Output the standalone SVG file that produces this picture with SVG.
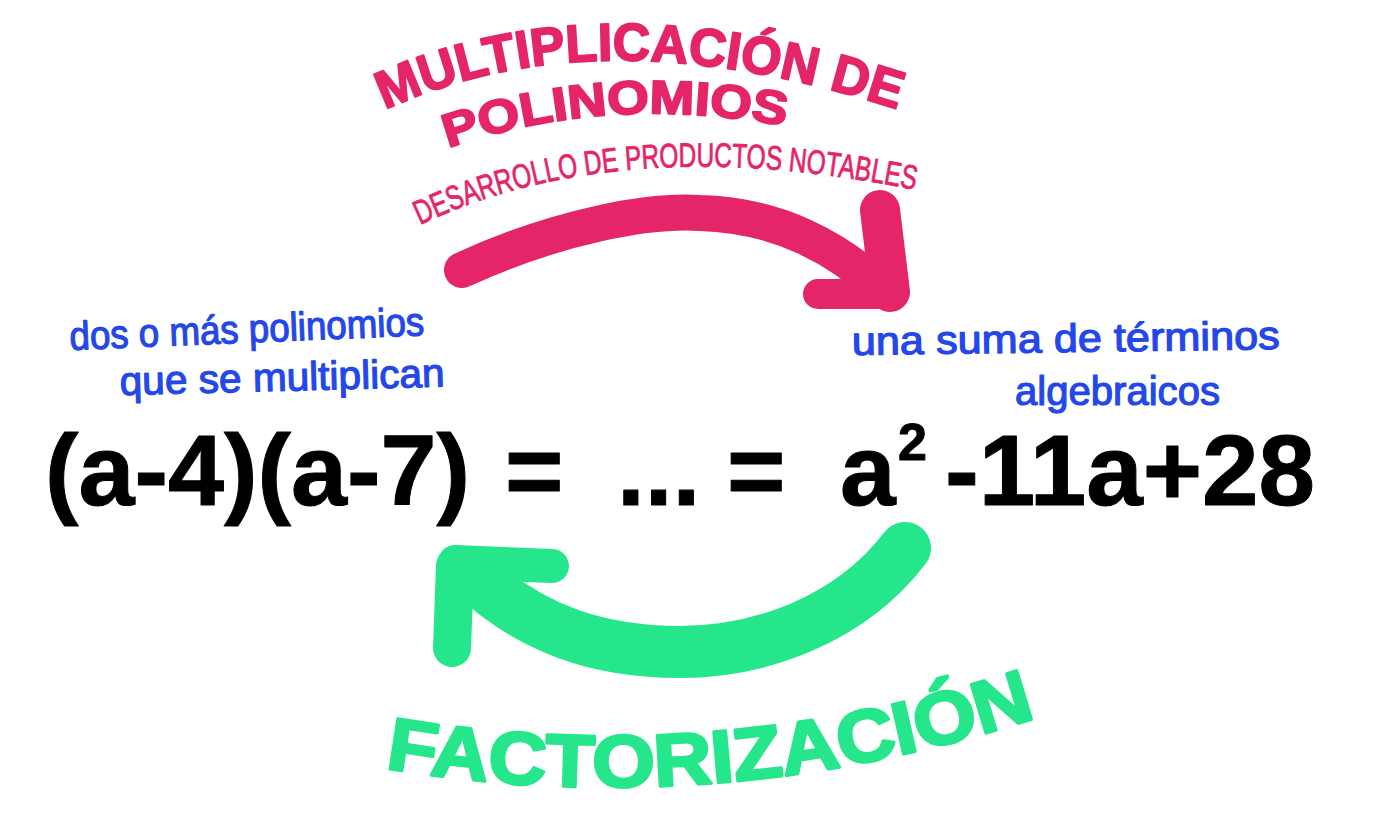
<svg xmlns="http://www.w3.org/2000/svg" width="1378" height="834" viewBox="0 0 1378 834">
<style>
.pink{fill:#E4256A;stroke:#E4256A;stroke-linejoin:round}
.blue{fill:#2447EA;stroke:#2447EA;stroke-width:1.2;stroke-linejoin:round;font-family:"Liberation Sans",Arial,sans-serif;font-size:40px}
.eq{fill:#000;stroke:#000;stroke-width:1;stroke-linejoin:round;font-family:"Liberation Sans",Arial,sans-serif;font-weight:bold;font-size:100px}
.sup{font-size:52px}
.green{fill:#25E68B;stroke:#25E68B;stroke-linejoin:round}
.title{font-family:"Liberation Sans",Arial,sans-serif;font-weight:bold}
.sub{font-family:"Liberation Sans",Arial,sans-serif;font-weight:normal}
.arrowP{fill:none;stroke:#E4256A;stroke-linecap:round;stroke-linejoin:round}
.arrowG{fill:none;stroke:#25E68B;stroke-linecap:round;stroke-linejoin:round}
</style>
<defs>
<path id="pTitle1" d="M 385 110 Q 600 10 905 112"/>
<path id="pTitle2" d="M 448 148 Q 610 92 790 127"/>
<path id="pSub" d="M 420 225 Q 620 130 915 190"/>
<path id="pFact" d="M 385 768 Q 715 824 1045 715"/>
</defs>
<rect width="1378" height="834" fill="#fff"/>

<g id="connectors">
  <g id="arrow-multiplicacion">
    <path class="arrowP" stroke-width="36" d="M 462 270 C 560 225, 650 210, 700 213 C 780 215, 840 250, 880 288"/>
    <path class="arrowP" stroke-width="40" d="M 880 210 L 890 292"/>
    <path class="arrowP" stroke-width="30" d="M 818 294 L 893 294"/>
  </g>
  <g id="arrow-factorizacion">
    <path class="arrowG" stroke-width="52" d="M 905 548 C 850 620, 760 652, 680 652 C 600 652, 530 630, 470 572"/>
    <path class="arrowG" stroke-width="38" d="M 452 648 L 455 566"/>
    <path class="arrowG" stroke-width="34" d="M 455 562 L 552 566"/>
  </g>
</g>

<g id="label-multiplicacion">
  <text class="pink title" font-size="53" stroke-width="2"><textPath href="#pTitle1" textLength="525" lengthAdjust="spacingAndGlyphs">MULTIPLICACIÓN DE</textPath></text>
  <text class="pink title" font-size="47" stroke-width="2"><textPath href="#pTitle2" textLength="342" lengthAdjust="spacingAndGlyphs">POLINOMIOS</textPath></text>
  <text class="pink sub" font-size="34" stroke-width="0.8"><textPath href="#pSub" textLength="505" lengthAdjust="spacingAndGlyphs">DESARROLLO DE PRODUCTOS NOTABLES</textPath></text>
</g>

<g id="node-producto">
  <text class="blue" x="70" y="350" textLength="355" lengthAdjust="spacingAndGlyphs" transform="rotate(-2.4 70 350)">dos o más polinomios</text>
  <text class="blue" x="120" y="395" textLength="325" lengthAdjust="spacingAndGlyphs" transform="rotate(-1.5 120 395)">que se multiplican</text>
  <text class="eq" x="45" y="505" textLength="425" lengthAdjust="spacingAndGlyphs">(a-4)(a-7)</text>
</g>

<g id="node-desarrollo">
  <text class="eq" x="505" y="505">=</text>
  <text class="eq" x="617" y="505">...</text>
  <text class="eq" x="727" y="505">=</text>
</g>

<g id="node-resultado">
  <text class="blue" x="852" y="355" textLength="428" lengthAdjust="spacingAndGlyphs" transform="rotate(-0.8 852 355)">una suma de términos</text>
  <text class="blue" x="1015" y="405" textLength="205" lengthAdjust="spacingAndGlyphs">algebraicos</text>
  <text class="eq" x="840" y="505">a</text>
  <text class="eq sup" x="898" y="460">2</text>
  <text class="eq" x="945" y="505" textLength="370" lengthAdjust="spacingAndGlyphs">-11a+28</text>
</g>

<g id="label-factorizacion">
  <text class="green title" font-size="74" stroke-width="3"><textPath href="#pFact" textLength="660" lengthAdjust="spacingAndGlyphs">FACTORIZACIÓN</textPath></text>
</g>
</svg>
